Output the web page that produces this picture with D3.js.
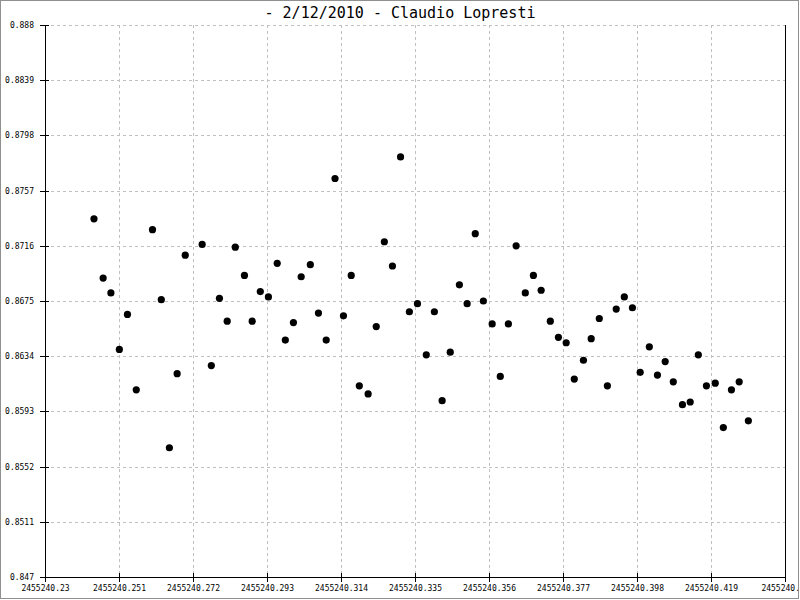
<!DOCTYPE html>
<html>
<head>
<meta charset="utf-8">
<script src="https://cdn.jsdelivr.net/npm/d3@7/dist/d3.min.js"></script>
<style>
  html, body { margin: 0; padding: 0; background: #fff; }
  svg { display: block; }
</style>
</head>
<body>
<script>
const titleText = "- 2/12/2010 - Claudio Lopresti";

const jd = [
  2455240.2439, 2455240.2465, 2455240.2487, 2455240.2511, 2455240.2534, 2455240.2559,
  2455240.2605, 2455240.2630, 2455240.2653, 2455240.2675, 2455240.2698, 2455240.2746,
  2455240.2772, 2455240.2795, 2455240.2817, 2455240.2840, 2455240.2866, 2455240.2888,
  2455240.2911, 2455240.2934, 2455240.2959, 2455240.2982, 2455240.3005, 2455240.3027,
  2455240.3053, 2455240.3076, 2455240.3098, 2455240.3123, 2455240.3147, 2455240.3169,
  2455240.3192, 2455240.3217, 2455240.3240, 2455240.3263, 2455240.3286, 2455240.3309,
  2455240.3334, 2455240.3357, 2455240.3382, 2455240.3405, 2455240.3427, 2455240.3450,
  2455240.3476, 2455240.3498, 2455240.3521, 2455240.3544, 2455240.3569, 2455240.3592,
  2455240.3615, 2455240.3637, 2455240.3663, 2455240.3686, 2455240.3708, 2455240.3734,
  2455240.3757, 2455240.3779, 2455240.3802, 2455240.3828, 2455240.3850, 2455240.3873,
  2455240.3896, 2455240.3921, 2455240.3944, 2455240.3967, 2455240.3989, 2455240.4015,
  2455240.4038, 2455240.4060, 2455240.4083, 2455240.4109, 2455240.4131, 2455240.4154,
  2455240.4177, 2455240.4202, 2455240.4225, 2455240.4248, 2455240.4270, 2455240.4296
];

const mag = [
  0.8736, 0.8692, 0.8681, 0.8639, 0.8665, 0.8609,
  0.8728, 0.8676, 0.8566, 0.8621, 0.8709, 0.8717,
  0.8627, 0.8677, 0.8660, 0.8715, 0.8694, 0.8660,
  0.8682, 0.8678, 0.8703, 0.8646, 0.8659, 0.8693,
  0.8702, 0.8666, 0.8646, 0.8766, 0.8664, 0.8694,
  0.8612, 0.8606, 0.8656, 0.8719, 0.8701, 0.8782,
  0.8667, 0.8673, 0.8635, 0.8667, 0.8601, 0.8637,
  0.8687, 0.8673, 0.8725, 0.8675, 0.8658, 0.8619,
  0.8658, 0.8716, 0.8681, 0.8694, 0.8683, 0.8660,
  0.8648, 0.8644, 0.8617, 0.8631, 0.8647, 0.8662,
  0.8612, 0.8669, 0.8678, 0.8670, 0.8622, 0.8641,
  0.8620, 0.8630, 0.8615, 0.8598, 0.8600, 0.8635,
  0.8612, 0.8614, 0.8581, 0.8609, 0.8615, 0.8586
];

const xTickValues = [2455240.23, 2455240.251, 2455240.272, 2455240.293, 2455240.314,
  2455240.335, 2455240.356, 2455240.377, 2455240.398, 2455240.419, 2455240.44];
const xTickLabels = ["2455240.23", "2455240.251", "2455240.272", "2455240.293", "2455240.314",
  "2455240.335", "2455240.356", "2455240.377", "2455240.398", "2455240.419", "2455240.44"];
const yTickValues = [0.847, 0.8511, 0.8552, 0.8593, 0.8634, 0.8675, 0.8716, 0.8757, 0.8798, 0.8839, 0.888];
const yTickLabels = ["0.847", "0.8511", "0.8552", "0.8593", "0.8634", "0.8675", "0.8716", "0.8757", "0.8798", "0.8839", "0.888"];

const W = 800, H = 600;
const L = 45, R = 785, T = 25, B = 577;
const FONT = "'DejaVu Sans Mono', 'Liberation Mono', monospace";

const svg = d3.select("body").append("svg").attr("width", W).attr("height", H);

svg.append("defs").append("clipPath").attr("id", "clipall")
  .append("rect").attr("x", 1).attr("y", 1).attr("width", W - 3).attr("height", H - 3);

const root = svg.append("g").attr("clip-path", "url(#clipall)");

const x = d3.scaleLinear().domain([xTickValues[0], xTickValues[xTickValues.length - 1]]).range([L, R]);
const y = d3.scaleLinear().domain([yTickValues[0], yTickValues[yTickValues.length - 1]]).range([B, T]);

// grid
const grid = root.append("g").attr("stroke", "#c0c0c0").attr("stroke-width", 1)
  .attr("stroke-dasharray", "3,3").attr("shape-rendering", "crispEdges");
grid.selectAll("line.h").data(yTickValues.slice(1)).join("line")
  .attr("x1", L).attr("x2", R).attr("y1", d => Math.round(y(d)) + 0.5).attr("y2", d => Math.round(y(d)) + 0.5);
grid.selectAll("line.v").data(xTickValues.slice(1, -1)).join("line")
  .attr("y1", T).attr("y2", B).attr("x1", d => Math.round(x(d)) + 0.5).attr("x2", d => Math.round(x(d)) + 0.5);

// x axis
const xAxis = d3.axisBottom(x).tickValues(xTickValues)
  .tickFormat((d, i) => xTickLabels[i]).tickSizeInner(5).tickSizeOuter(0).tickPadding(3);
const gx = root.append("g").attr("transform", `translate(0,${B})`).call(xAxis);
gx.select(".domain").attr("stroke", "#000").attr("shape-rendering", "crispEdges");
gx.selectAll(".tick line").attr("stroke", "#000").attr("y1", -4).attr("shape-rendering", "crispEdges");
gx.selectAll(".tick text").attr("font-family", FONT).attr("font-size", 8).attr("fill", "#000");

// y axis
const yAxis = d3.axisLeft(y).tickValues(yTickValues)
  .tickFormat((d, i) => yTickLabels[i]).tickSizeInner(5).tickSizeOuter(0).tickPadding(6);
const gy = root.append("g").attr("transform", `translate(${L},0)`).call(yAxis);
gy.select(".domain").attr("stroke", "#000").attr("shape-rendering", "crispEdges");
gy.selectAll(".tick line").attr("stroke", "#000").attr("x2", 4).attr("x1", -5).attr("shape-rendering", "crispEdges");
gy.selectAll(".tick text").attr("font-family", FONT).attr("font-size", 8).attr("fill", "#000");

// right axis line
root.append("line").attr("x1", R + 0.5).attr("x2", R + 0.5).attr("y1", T).attr("y2", B)
  .attr("stroke", "#000");

// points
const pts = jd.map((d, i) => ({ x: d, y: mag[i] }));
root.append("g").selectAll("circle").data(pts).join("circle")
  .attr("cx", d => x(d.x)).attr("cy", d => y(d.y)).attr("r", 3.6).attr("fill", "#000");

// title
svg.append("text").attr("x", W / 2).attr("y", 18).attr("text-anchor", "middle")
  .attr("font-family", FONT).attr("font-size", 15).attr("fill", "#000").text(titleText);

// frame
svg.append("rect").attr("x", 0.5).attr("y", 0.5).attr("width", W - 2).attr("height", H - 2)
  .attr("fill", "none").attr("stroke", "#909090").attr("stroke-width", 1);
</script>
</body>
</html>
